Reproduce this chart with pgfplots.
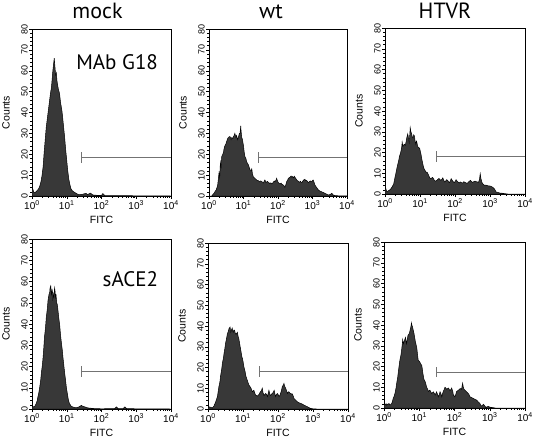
\documentclass[border=0pt]{standalone}
\usepackage{fontspec}
\setmainfont{Liberation Sans}
\newfontfamily\titlefont{PT Sans}
\usepackage{pgfplots}
\pgfplotsset{compat=1.18}
\usepackage{pgfplotstable}

\pgfplotstableread{
x y
0.00 4.5
0.03 3
0.06 1.5
0.10 1.8
0.14 2.5
0.18 3.2
0.22 4.5
0.26 7
0.29 10
0.32 14
0.35 21
0.38 27
0.41 33
0.44 37
0.47 41
0.50 45
0.53 49
0.56 52
0.58 56
0.60 60
0.62 63
0.64 66
0.66 62
0.68 58
0.70 59
0.72 55
0.74 53
0.76 51
0.78 50
0.80 48
0.82 45
0.84 43
0.86 41
0.88 38
0.91 33
0.94 28
0.97 22
1.00 17
1.03 12
1.06 8
1.09 5.5
1.12 3.5
1.16 2.5
1.20 2
1.25 1.5
1.30 1
1.35 0.6
1.45 0.8
1.55 1.3
1.60 0.7
1.68 1.4
1.75 0.5
1.90 0.3
2.00 0.3
2.04 1.2
2.10 0.2
2.50 0.2
3.00 0.1
4.00 0
}\dataA

\pgfplotstableread{
x y
0.00 0
0.08 0
0.10 0.5
0.14 1.2
0.17 2
0.21 3
0.25 5
0.29 11
0.31 9
0.33 16
0.35 14
0.37 19
0.40 20
0.42 21
0.44 23
0.46 24
0.49 25
0.51 26
0.54 27.5
0.56 28
0.59 28.5
0.61 28.5
0.64 27
0.66 28
0.69 27.5
0.71 28.5
0.73 29
0.75 30
0.78 28
0.80 29
0.83 27
0.85 28
0.88 30
0.90 30
0.92 33.6
0.93 31
0.95 28
0.97 27
1.00 24
1.02 21
1.04 19
1.07 18
1.09 16.5
1.12 15.5
1.14 15
1.17 13.5
1.19 12.5
1.22 12
1.24 13
1.26 10.5
1.29 9
1.31 8.8
1.33 8.5
1.36 8
1.38 7.7
1.41 7.3
1.43 7.4
1.46 6.8
1.50 7.2
1.53 6.9
1.57 6.2
1.60 7
1.62 7.7
1.65 6.5
1.69 7
1.72 6.6
1.76 6
1.79 6.3
1.82 5.8
1.86 6.5
1.89 7.2
1.91 6.9
1.94 7.5
1.96 8.5
1.99 7
2.01 6.4
2.04 6.0
2.06 5.8
2.09 6.2
2.11 5.6
2.15 5.3
2.18 4.8
2.20 4.2
2.23 5.5
2.25 6.9
2.28 7.6
2.30 8.5
2.33 8.8
2.36 9.2
2.38 9.6
2.40 9.0
2.42 9.3
2.45 8.7
2.47 9.5
2.49 9.0
2.52 8.3
2.54 7.7
2.57 7.3
2.59 7.0
2.62 6.6
2.65 7.1
2.67 6.5
2.69 6.4
2.72 7.2
2.75 7.8
2.78 8.0
2.80 7.4
2.83 7.5
2.86 6.8
2.88 6.4
2.91 6.9
2.94 7.2
2.96 6.8
2.98 6.9
3.00 7.5
3.02 7.7
3.05 6.3
3.07 5.3
3.10 4.5
3.14 3.6
3.17 2.9
3.21 2.4
3.27 2.0
3.32 1.6
3.36 1.3
3.41 0.9
3.46 0.5
3.51 0.7
3.56 1.3
3.60 0.5
3.65 0.2
3.75 0.1
4.00 0
}\dataB

\pgfplotstableread{
x y
0.00 4
0.02 3
0.04 1.5
0.06 1
0.09 1.5
0.12 1.8
0.15 2.2
0.17 2.6
0.21 3.6
0.25 5
0.28 7.5
0.31 10
0.34 12.5
0.36 14
0.39 16
0.41 18
0.44 19.5
0.46 21
0.48 23
0.49 25
0.51 23
0.53 23.5
0.55 24
0.58 23.5
0.60 25
0.62 27
0.65 29
0.67 27
0.69 25
0.71 29
0.72 32
0.74 30
0.76 29
0.78 27.5
0.80 27
0.82 28.5
0.84 28
0.86 25.5
0.88 24
0.90 25.5
0.91 25
0.93 23
0.95 22.5
0.97 22.3
0.99 22
1.01 20.5
1.03 19
1.05 17
1.08 14.5
1.10 13
1.12 12
1.15 11.2
1.17 10.5
1.20 10.5
1.22 10
1.25 9
1.27 8
1.29 7.6
1.31 7.4
1.34 7.8
1.36 8
1.39 7.3
1.41 6.6
1.44 6.2
1.46 6.3
1.50 6.9
1.53 7.4
1.55 7.4
1.58 6.8
1.60 6.6
1.63 7.2
1.65 7.8
1.67 7.0
1.70 5.8
1.73 6.2
1.76 6.9
1.79 6.6
1.82 5.8
1.84 5.5
1.87 6.3
1.89 7.4
1.92 6.6
1.95 5.9
1.98 5.5
2.01 6.2
2.03 6.9
2.06 6.2
2.09 5.7
2.12 5.3
2.15 5.8
2.18 5.5
2.22 5.3
2.25 5.9
2.29 5.6
2.33 5.2
2.36 5.3
2.40 6.0
2.44 6.6
2.47 6.0
2.50 5.6
2.53 5.9
2.57 6.2
2.60 6.0
2.64 5.8
2.67 5.6
2.70 7.0
2.72 9.8
2.74 7.5
2.77 5.6
2.80 4.8
2.84 4.2
2.88 4.3
2.93 4.0
2.98 3.9
3.03 3.7
3.08 3.2
3.12 2.6
3.15 1.8
3.17 1.0
3.22 0.8
3.27 0.5
3.34 0.4
3.41 0.2
3.50 0
4.00 0
}\dataC

\pgfplotstableread{
x y
0.00 2.5
0.02 1.2
0.05 1
0.08 1.3
0.12 2.5
0.15 4
0.17 5.7
0.20 8
0.22 10
0.25 13.5
0.27 17
0.30 21
0.32 24.5
0.34 29
0.36 34
0.39 38.5
0.41 43
0.44 47
0.46 51
0.48 53
0.49 54
0.51 55
0.52 57
0.54 58
0.55 56
0.56 54
0.58 56
0.59 55
0.60 52
0.62 54
0.63 53
0.65 57
0.66 56
0.68 52
0.69 54
0.71 50
0.73 49
0.75 46
0.77 43
0.80 39
0.82 35
0.84 32
0.87 28
0.89 24.5
0.92 20
0.94 17
0.97 13
0.99 10
1.02 7
1.04 5
1.06 3.5
1.08 2.5
1.11 1.8
1.13 1.3
1.20 0.8
1.28 0.6
1.35 1.0
1.42 1.7
1.47 1.2
1.52 1.0
1.61 0.5
1.80 0.2
2.00 0.1
2.38 0.2
2.43 1.0
2.48 0.2
2.62 0.2
2.67 1.0
2.72 0.2
3.00 0.1
4.00 0
}\dataD

\pgfplotstableread{
x y
0.00 0.8
0.04 1
0.08 0.8
0.12 0.5
0.17 1.4
0.22 3.5
0.27 6
0.31 10.7
0.34 13
0.36 16
0.39 19
0.41 22
0.44 24.5
0.46 27
0.48 29
0.50 31.5
0.53 34
0.55 36
0.58 37.5
0.60 38.7
0.63 39.5
0.65 37
0.67 38
0.69 39
0.71 37.5
0.72 37
0.74 38
0.76 38
0.78 36.5
0.80 36
0.82 36.5
0.84 37
0.86 35
0.88 34
0.90 32
0.91 31
0.93 29
0.95 27
0.97 25
0.99 24
1.01 22
1.03 20
1.06 18
1.08 16
1.10 15
1.12 14
1.15 12.5
1.17 11.5
1.20 10.8
1.22 10.4
1.25 9
1.27 8.3
1.29 8.8
1.31 9
1.34 7.5
1.36 6.7
1.39 6.4
1.41 6.2
1.44 6.8
1.46 7
1.48 7.8
1.50 8.3
1.53 9.0
1.55 10
1.57 8
1.60 6.5
1.63 7.2
1.65 7.5
1.68 6.8
1.70 6
1.72 7.5
1.74 9
1.77 7
1.79 6.5
1.82 7.3
1.84 7.5
1.87 8.2
1.89 9
1.91 7.5
1.93 6
1.96 7
1.98 7.5
2.01 6.8
2.03 6
2.06 6.8
2.08 7.8
2.10 9
2.12 10.7
2.15 11.5
2.17 12.3
2.19 11
2.22 10
2.25 8.5
2.27 7.5
2.29 8.2
2.31 8.3
2.34 7.7
2.36 7.5
2.39 7.2
2.41 7.3
2.44 6
2.46 5
2.50 4.3
2.55 3.5
2.60 3
2.65 2.7
2.70 2.3
2.74 1.9
2.79 1.5
2.84 1.1
2.88 0.7
2.93 0.3
3.00 0.1
3.10 0
4.00 0
}\dataE

\pgfplotstableread{
x y
0.00 1.5
0.03 2
0.06 1.3
0.08 2
0.11 1.6
0.14 2.2
0.17 1.4
0.20 1.9
0.22 2.2
0.24 3.2
0.26 4.6
0.29 5.8
0.31 7
0.34 9.5
0.36 12
0.39 15
0.41 18
0.43 20.5
0.45 23
0.48 25.5
0.50 28
0.52 31
0.53 33
0.55 31
0.57 32
0.59 33
0.61 34
0.63 32
0.64 31
0.66 33
0.68 35
0.70 35.5
0.72 36
0.74 37.5
0.76 39
0.78 41
0.79 40
0.81 39
0.83 37.5
0.85 36
0.87 34
0.89 32
0.91 30.5
0.93 29
0.95 26
0.97 23
1.00 22.5
1.02 22
1.05 21
1.07 20.6
1.09 18.5
1.10 17
1.13 14
1.15 13.2
1.17 12.6
1.19 11.3
1.21 10
1.24 9
1.26 8
1.28 8.3
1.30 8.6
1.33 7.8
1.35 7
1.38 7.4
1.40 7.8
1.43 7
1.45 6.2
1.47 7
1.49 7.8
1.52 6.6
1.54 5.4
1.57 6.6
1.59 7.8
1.62 6.6
1.64 5.4
1.66 6.8
1.68 8
1.71 9
1.73 10
1.76 9.5
1.78 9
1.81 9.4
1.83 9.6
1.85 9
1.87 8.3
1.90 9
1.92 9.6
1.95 8
1.97 6.2
1.99 5.8
2.01 5.4
2.04 6.8
2.06 8
2.09 8.3
2.11 8.6
2.14 9
2.16 9.4
2.18 9.2
2.20 9
2.23 12
2.25 10
2.27 9
2.30 8.5
2.33 8
2.36 7.5
2.39 7
2.42 6.2
2.44 5.4
2.49 5
2.53 4.6
2.58 4.2
2.63 3.8
2.67 3
2.72 2.2
2.75 1.2
2.77 0.9
2.80 1.4
2.82 1.8
2.86 1
2.89 0.3
2.93 0.6
2.96 0.8
3.00 0.4
3.05 0.3
3.15 0
4.00 0
}\dataF

\pgfplotsset{
  flow/.style={
    scale only axis,
    anchor=south west,
    xmin=0, xmax=4, ymin=0, ymax=80,
    axis line style={line width=0.8pt},
    xtick={0,1,2,3,4},
    xticklabels={10\textsuperscript{0},10\textsuperscript{1},10\textsuperscript{2},10\textsuperscript{3},10\textsuperscript{4}},
    minor xtick={0.301,0.477,0.602,0.699,0.778,0.845,0.903,0.954,
                 1.301,1.477,1.602,1.699,1.778,1.845,1.903,1.954,
                 2.301,2.477,2.602,2.699,2.778,2.845,2.903,2.954,
                 3.301,3.477,3.602,3.699,3.778,3.845,3.903,3.954},
    ytick={0,10,...,80},
    minor y tick num=4,
    tick align=outside,
    xtick pos=bottom, ytick pos=left,
    major tick length=3pt, minor tick length=1.6pt,
    tick style={black, line width=0.5pt},
    /pgf/number format/assume math mode=true,
    yticklabel style={rotate=90, anchor=south, font=\fontsize{9}{10}\selectfont, inner sep=1pt},
    xticklabel style={font=\fontsize{10}{11}\selectfont, inner sep=1.5pt},
    xlabel={FITC}, ylabel={Counts},
    every axis x label/.style={at={(axis description cs:0.5,0)}, yshift=-24pt, anchor=center, font=\fontsize{10.5}{12}\selectfont},
    every axis y label/.style={at={(axis description cs:0,0.5)}, xshift=-26pt, anchor=center, rotate=90, font=\fontsize{10.5}{12}\selectfont},
  },
  hist/.style={fill=black!78, draw=black, line width=0.5pt},
  gate/.style={black!55, line width=0.6pt, no marks},
}

\begin{document}
\begin{tikzpicture}[x=1pt,y=1pt]
% top row
\begin{axis}[flow, at={(32pt,244pt)}, width=139pt, height=167pt]
  \addplot[hist] table[x=x,y=y]{\dataA} \closedcycle;
  \addplot[gate] coordinates {(1.43,18.5) (4,18.5)};
  \addplot[gate] coordinates {(1.43,16) (1.43,21)};
  \node[font=\titlefont\fontsize{21}{24}\selectfont] at (axis cs:2.45,64) {MAb G18};
\end{axis}
\begin{axis}[flow, at={(209pt,244pt)}, width=138pt, height=167pt]
  \addplot[hist] table[x=x,y=y]{\dataB} \closedcycle;
  \addplot[gate] coordinates {(1.43,18.5) (4,18.5)};
  \addplot[gate] coordinates {(1.43,16) (1.43,21)};
\end{axis}
\begin{axis}[flow, at={(385pt,246pt)}, width=140pt, height=166pt]
  \addplot[hist] table[x=x,y=y]{\dataC} \closedcycle;
  \addplot[gate] coordinates {(1.47,18) (4,18)};
  \addplot[gate] coordinates {(1.47,15.5) (1.47,20.5)};
\end{axis}
% bottom row
\begin{axis}[flow, at={(32pt,31pt)}, width=139pt, height=170pt]
  \addplot[hist] table[x=x,y=y]{\dataD} \closedcycle;
  \addplot[gate] coordinates {(1.41,17.6) (4,17.6)};
  \addplot[gate] coordinates {(1.41,15.1) (1.41,20.1)};
  \node[font=\titlefont\fontsize{21}{24}\selectfont] at (axis cs:2.83,61) {sACE2};
\end{axis}
\begin{axis}[flow, at={(208pt,31pt)}, width=140pt, height=166pt]
  \addplot[hist] table[x=x,y=y]{\dataE} \closedcycle;
  \addplot[gate] coordinates {(1.47,18) (4,18)};
  \addplot[gate] coordinates {(1.47,15.5) (1.47,20.5)};
\end{axis}
\begin{axis}[flow, at={(384pt,32pt)}, width=141pt, height=166pt]
  \addplot[hist] table[x=x,y=y]{\dataF} \closedcycle;
  \addplot[gate] coordinates {(1.48,17.4) (4,17.4)};
  \addplot[gate] coordinates {(1.48,14.9) (1.48,19.9)};
\end{axis}
% column titles
\node[font=\titlefont\fontsize{22}{24}\selectfont, anchor=base] at (97.5,421.5) {mock};
\node[font=\titlefont\fontsize{22}{24}\selectfont, anchor=base] at (271,421.5) {wt};
\node[font=\titlefont\fontsize{22}{24}\selectfont, anchor=base] at (445,421.5) {HTVR};
\pgfresetboundingbox
\useasboundingbox (0,0) rectangle (534,440);
\end{tikzpicture}
\end{document}
